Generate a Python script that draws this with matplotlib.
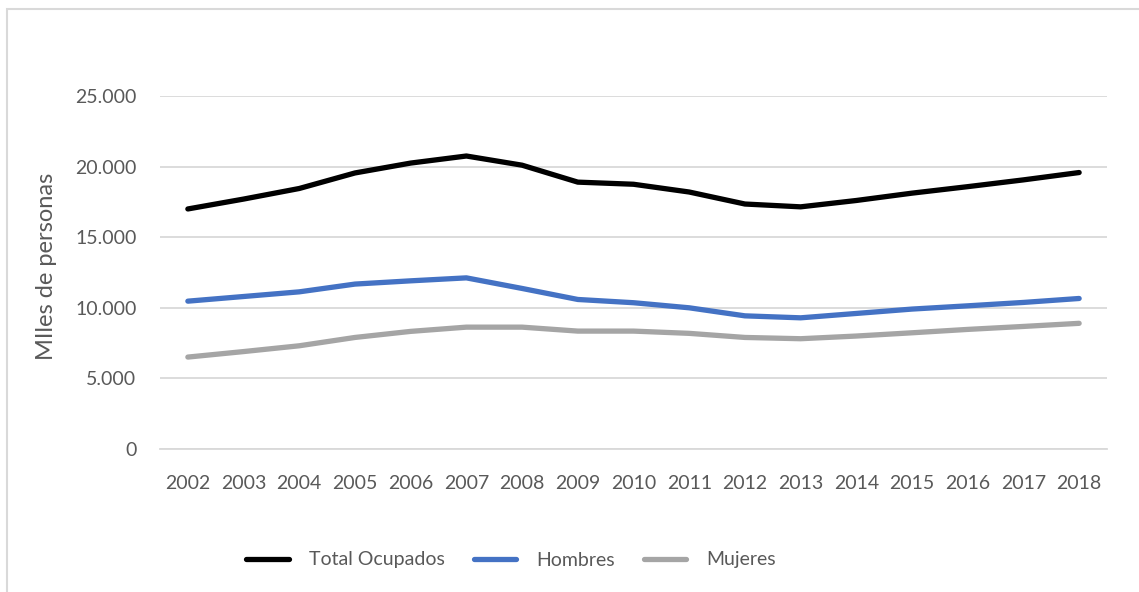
import matplotlib
matplotlib.use("Agg")
import matplotlib.pyplot as plt
from matplotlib.patches import Rectangle
from matplotlib.ticker import FuncFormatter

years = [str(y) for y in range(2002, 2019)]
total_ocupados = [17000, 17700, 18450, 19550, 20250, 20750, 20100, 18900, 18750,
                  18200, 17350, 17150, 17600, 18120, 18580, 19060, 19580]
hombres = [10470, 10800, 11130, 11680, 11910, 12120, 11370, 10590, 10360,
           10000, 9430, 9290, 9600, 9910, 10140, 10380, 10660]
mujeres = [6510, 6900, 7310, 7900, 8330, 8630, 8630, 8350, 8350,
           8190, 7900, 7810, 8000, 8230, 8470, 8680, 8900]

series_names = ["Total Ocupados", "Hombres", "Mujeres"]
series_colors = ["#000000", "#4472C4", "#A5A5A5"]
y_ticks = [0, 5000, 10000, 15000, 20000, 25000]

plt.rcParams['font.family'] = ['Lato', 'DejaVu Sans']
text_color = "#595959"
grid_color = "#D9D9D9"

W, H = 1139, 592
fig = plt.figure(figsize=(W / 100, H / 100), dpi=100)

# chart frame
fig.patches.append(Rectangle((7 / W, -0.1), 1.2, 1 - 9 / H + 0.1,
                             transform=fig.transFigure, fill=False,
                             edgecolor=grid_color, linewidth=1.5))

left, right, top, bottom = 160, 1107, 96, 449
ax = fig.add_axes([left / W, 1 - bottom / H, (right - left) / W, (bottom - top) / H])

x = list(range(len(years)))
for vals, name, col in zip([total_ocupados, hombres, mujeres], series_names, series_colors):
    ax.plot(x, vals, color=col, linewidth=3.8, label=name,
            solid_capstyle='round', solid_joinstyle='round', zorder=3)

ax.set_xlim(-0.5, len(years) - 0.5)
ax.set_ylim(0, 25000)
ax.set_yticks(y_ticks)
ax.yaxis.set_major_formatter(FuncFormatter(lambda v, p: f"{int(v):,}".replace(",", ".")))
ax.set_xticks(x)
ax.set_xticklabels(years)

ax.grid(axis='y', color=grid_color, linewidth=1.3, zorder=0)
ax.set_axisbelow(True)
for s in ['top', 'right', 'left']:
    ax.spines[s].set_visible(False)
ax.spines['bottom'].set_color(grid_color)
ax.spines['bottom'].set_linewidth(1.3)
ax.tick_params(axis='both', length=0, labelsize=14, labelcolor=text_color)
ax.tick_params(axis='y', pad=17)
ax.tick_params(axis='x', pad=19)

fig.text(47 / W, 1 - 266 / H, "MIles de personas", rotation=90, ha='center', va='center',
         fontsize=17, color=text_color)

leg = fig.legend(loc='center', bbox_to_anchor=(511 / W, 1 - 560 / H), ncol=3,
                 frameon=False, fontsize=14, handlelength=2.2, handletextpad=1.0,
                 columnspacing=1.5)
for t in leg.get_texts():
    t.set_color(text_color)

fig.savefig("out.png", dpi=100)
